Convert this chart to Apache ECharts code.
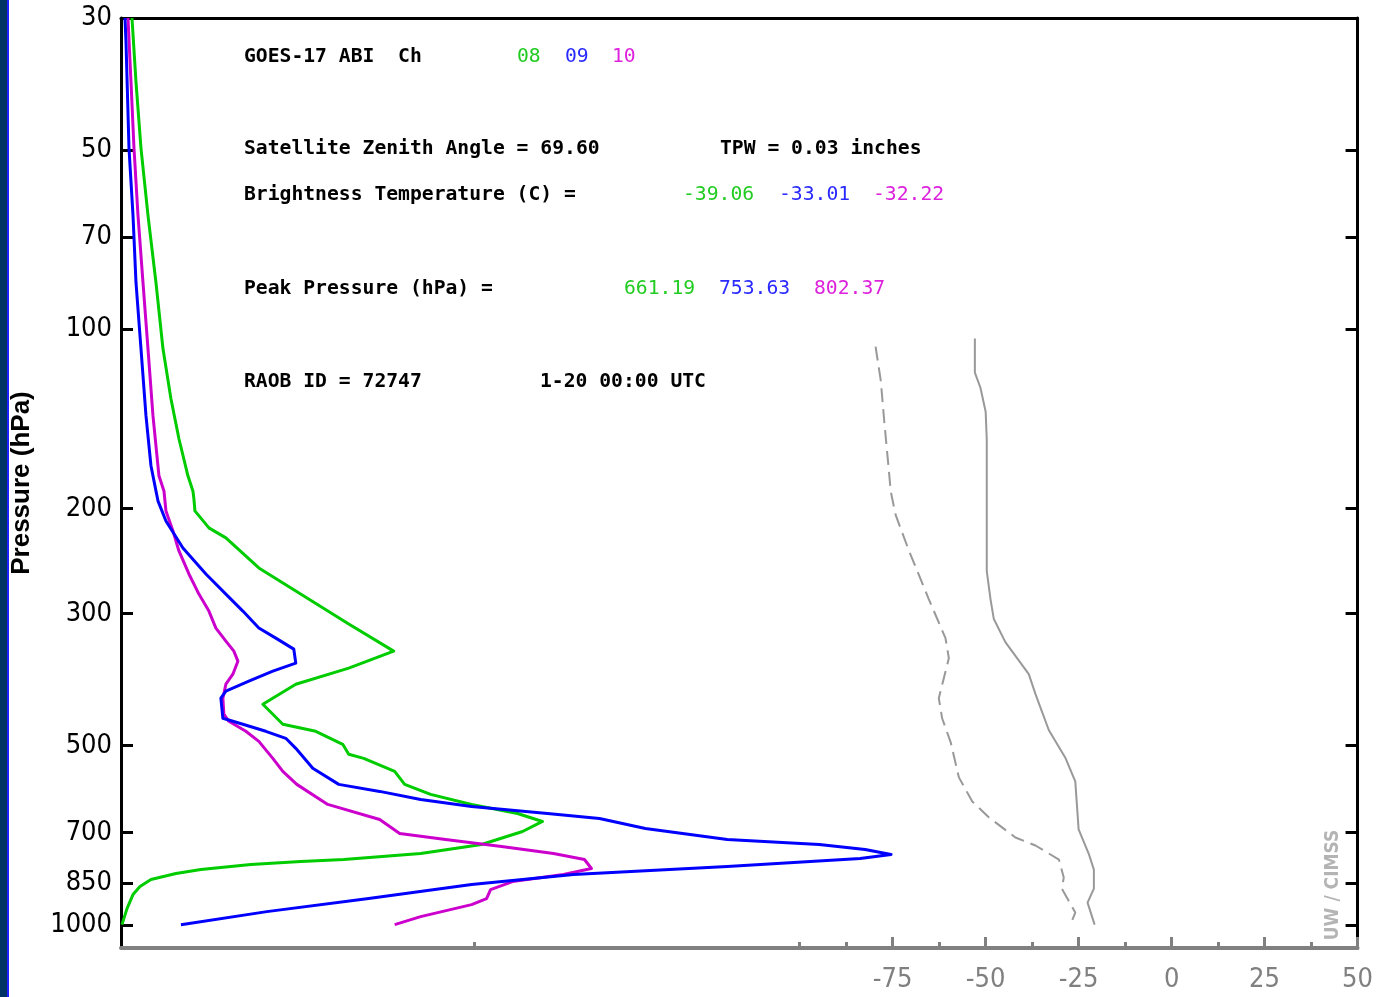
<!DOCTYPE html>
<html><head><meta charset="utf-8">
<script src="https://cdn.jsdelivr.net/npm/echarts@6/dist/echarts.min.js"></script>
<style>html,body{margin:0;padding:0;background:#fff}#c{width:1376px;height:997px}</style>
</head><body><div id="c"></div><script>
// ---- tick labels ----
const pressureTicks = [30, 50, 70, 100, 200, 300, 500, 700, 850, 1000];
const pressureTickMarks = [50, 70, 100, 200, 300, 500, 700, 850, 1000];
const tempTicks = [-75, -50, -25, 0, 25, 50];
const tempMinorTicks = [-187.5, -100, -87.5, -62.5, -37.5, -12.5, 12.5, 37.5];

// ---- weighting functions (normalized weight vs pressure hPa) ----
const ch08Pressure = [30, 38.4, 49.6, 64.3, 83.4, 107.7, 130.7, 152.6, 176.1, 186.7, 192.5, 201.7, 215.4, 223.9, 251.5, 275.0, 312.4, 346.9, 370.5, 394.2, 425.9, 460.2, 472.9, 497.3, 516.9, 525.0, 552.1, 580.6, 603.6, 627.4, 649.7, 670.1, 696.6, 732.5, 758.6, 776.4, 782.4, 791.6, 807.1, 819.6, 838.9, 861.9, 889.1, 938.7, 998.7];
const ch08Weight = [0.011, 0.015, 0.020, 0.027, 0.035, 0.042, 0.050, 0.058, 0.067, 0.072, 0.073, 0.074, 0.088, 0.105, 0.138, 0.175, 0.228, 0.273, 0.228, 0.175, 0.142, 0.162, 0.195, 0.222, 0.228, 0.243, 0.274, 0.284, 0.310, 0.351, 0.397, 0.422, 0.402, 0.361, 0.300, 0.223, 0.180, 0.130, 0.080, 0.055, 0.030, 0.019, 0.012, 0.006, 0.001];

const ch09Pressure = [30, 32.9, 49.6, 64.3, 83.4, 107.7, 139.6, 169.4, 186.7, 194.0, 209.7, 232.8, 257.4, 278.2, 297.1, 317.3, 329.9, 344.2, 363.4, 374.8, 389.6, 405.0, 416.1, 449.7, 460.2, 472.9, 485.9, 505.1, 545.7, 580.6, 596.6, 615.4, 632.3, 649.7, 662.4, 688.5, 718.5, 732.5, 746.9, 761.5, 773.3, 797.7, 822.8, 855.3, 903.0, 949.6, 998.7];
const ch09Weight = [0.004, 0.005, 0.008, 0.012, 0.015, 0.020, 0.025, 0.030, 0.035, 0.037, 0.045, 0.062, 0.085, 0.105, 0.122, 0.138, 0.155, 0.173, 0.175, 0.152, 0.128, 0.105, 0.100, 0.102, 0.122, 0.145, 0.165, 0.175, 0.192, 0.218, 0.259, 0.300, 0.351, 0.427, 0.479, 0.525, 0.607, 0.699, 0.745, 0.771, 0.740, 0.607, 0.453, 0.351, 0.248, 0.146, 0.060];

const ch10Pressure = [30, 38.4, 49.6, 64.3, 83.4, 107.7, 139.6, 176.1, 186.7, 201.7, 217.9, 235.5, 257.4, 278.2, 297.1, 317.3, 333.7, 346.9, 360.6, 379.2, 394.2, 416.1, 442.7, 454.9, 472.9, 491.6, 525.0, 552.1, 580.6, 627.4, 665.0, 702.0, 718.5, 738.2, 758.6, 776.4, 803.9, 822.8, 845.4, 872.0, 903.0, 924.2, 968.2, 998.7];
const ch10Weight = [0.007, 0.010, 0.013, 0.017, 0.022, 0.027, 0.032, 0.038, 0.043, 0.045, 0.052, 0.058, 0.068, 0.078, 0.088, 0.095, 0.105, 0.113, 0.117, 0.112, 0.105, 0.102, 0.103, 0.108, 0.125, 0.138, 0.152, 0.162, 0.176, 0.207, 0.259, 0.279, 0.325, 0.381, 0.433, 0.464, 0.471, 0.443, 0.392, 0.370, 0.366, 0.351, 0.300, 0.274];

// ---- RAOB temperature / dewpoint (deg C vs pressure hPa) ----
const tempPressure = [103.6, 118.2, 125.3, 137.5, 153.2, 254.5, 283.6, 306.4, 335.0, 379.2, 409.7, 471.0, 525.0, 573.9, 691.2, 758.6, 807.1, 868.7, 917.1, 998.7];
const tempValue = [-52.9, -52.9, -51.4, -50.0, -49.7, -49.7, -48.7, -47.8, -44.7, -38.4, -36.6, -33.0, -28.5, -25.9, -25.0, -22.3, -20.9, -20.9, -22.6, -20.7];
const dewPressure = [106.9, 121.9, 141.8, 160.5, 187.4, 204.9, 235.5, 283.6, 329.9, 356.4, 416.1, 449.7, 493.5, 565.1, 620.2, 659.8, 713.0, 735.4, 776.4, 832.4, 868.7, 953.2, 998.7];
const dewValue = [-79.6, -78.2, -77.3, -76.5, -75.5, -74.2, -70.6, -65.3, -60.8, -59.9, -62.6, -61.7, -59.4, -57.2, -53.6, -49.1, -42.0, -36.6, -30.3, -29.0, -29.5, -25.9, -27.2];

const zip = (xs, ys) => xs.map((v, i) => [v, ys[i]]);
const GREEN = '#00cc00', BLUE = '#0000ff', MAGENTA = '#cc00cc';
const GREEN_T = '#22cc22', BLUE_T = '#2a2aff', MAGENTA_T = '#dd22dd';
const labelFont = "'DejaVu Sans Condensed', 'Liberation Sans Narrow', 'DejaVu Sans', sans-serif";
const monoBold = "bold 19.7px 'DejaVu Sans Mono', monospace";
const monoReg = "19.7px 'DejaVu Sans Mono', monospace";

function txt(s, x, y, color, font) {
  return { type: 'text', x: x, y: y, silent: true, z: 100,
    style: { text: s, fill: color, font: font, align: 'left', verticalAlign: 'middle' } };
}

const chart = echarts.init(document.getElementById('c'), null, { renderer: 'canvas' });
const tAxisBase = { type: 'value', min: -282.5, max: 50, splitLine: { show: false } };
const pAxisBase = { type: 'log', logBase: 10, min: 30, max: 1093, inverse: true, splitLine: { show: false } };

const option = {
  animation: false,
  backgroundColor: '#ffffff',
  grid: { left: 121, right: 17, top: 18, bottom: 49 },
  xAxis: [
    { type: 'value', position: 'top', min: 0, max: 1.238,
      axisLine: { show: true, onZero: false, lineStyle: { color: '#000', width: 3 } },
      axisTick: { show: false }, axisLabel: { show: false }, splitLine: { show: false } },
    Object.assign({}, tAxisBase, { position: 'bottom',
      axisLine: { show: true, onZero: false, lineStyle: { color: '#808080', width: 4 } },
      axisTick: { show: true, inside: true, length: 11, lineStyle: { color: '#808080', width: 3 }, customValues: tempTicks },
      axisLabel: { show: true, customValues: tempTicks, color: '#808080', fontSize: 27, fontFamily: labelFont, margin: 18,
        formatter: v => String(Math.round(v)) } }),
    Object.assign({}, tAxisBase, { position: 'bottom',
      axisLine: { show: false },
      axisTick: { show: true, inside: true, length: 6, lineStyle: { color: '#808080', width: 3 }, customValues: tempMinorTicks },
      axisLabel: { show: false } })
  ],
  yAxis: [
    Object.assign({}, pAxisBase, { position: 'left',
      axisLine: { show: true, onZero: false, lineStyle: { color: '#000', width: 3 } },
      axisTick: { show: true, inside: true, length: 12, lineStyle: { color: '#000', width: 3 }, customValues: pressureTickMarks },
      axisLabel: { show: true, customValues: pressureTicks, color: '#000', fontSize: 27, fontFamily: labelFont, margin: 9,
        formatter: v => String(Math.round(v)) },
      name: 'Pressure (hPa)', nameLocation: 'middle', nameRotate: 90, nameGap: 86,
      nameTextStyle: { color: '#000', fontSize: 26, fontWeight: 'bold', fontFamily: "'Liberation Sans', Arial, sans-serif" } }),
    Object.assign({}, pAxisBase, { position: 'right',
      axisLine: { show: true, onZero: false, lineStyle: { color: '#000', width: 3 } },
      axisTick: { show: true, inside: true, length: 12, lineStyle: { color: '#000', width: 3 }, customValues: pressureTickMarks },
      axisLabel: { show: false } })
  ],
  series: [
    { name: 'Dewpoint', type: 'line', xAxisIndex: 1, yAxisIndex: 0, data: zip(dewValue, dewPressure),
      symbol: 'none', silent: true, lineStyle: { color: '#999999', width: 2, type: [14, 7] }, z: 2 },
    { name: 'Temperature', type: 'line', xAxisIndex: 1, yAxisIndex: 0, data: zip(tempValue, tempPressure),
      symbol: 'none', silent: true, lineStyle: { color: '#999999', width: 2 }, z: 2 },
    { name: '08', type: 'line', xAxisIndex: 0, yAxisIndex: 0, data: zip(ch08Weight, ch08Pressure),
      symbol: 'none', silent: true, lineStyle: { color: GREEN, width: 3, join: 'round' }, z: 3 },
    { name: '10', type: 'line', xAxisIndex: 0, yAxisIndex: 0, data: zip(ch10Weight, ch10Pressure),
      symbol: 'none', silent: true, lineStyle: { color: MAGENTA, width: 3, join: 'round' }, z: 3 },
    { name: '09', type: 'line', xAxisIndex: 0, yAxisIndex: 0, data: zip(ch09Weight, ch09Pressure),
      symbol: 'none', silent: true, lineStyle: { color: BLUE, width: 3, join: 'round' }, z: 3 }
  ],
  graphic: [
    { type: 'rect', silent: true, shape: { x: 0, y: 0, width: 7, height: 997 }, style: { fill: '#003366' }, z: 100 },
    { type: 'rect', silent: true, shape: { x: 7, y: 0, width: 2, height: 997 }, style: { fill: '#1f1fff' }, z: 100 },
    txt('GOES-17 ABI  Ch', 244, 57, '#000', monoBold),
    txt('08', 517, 57, GREEN_T, monoReg),
    txt('09', 565, 57, BLUE_T, monoReg),
    txt('10', 612, 57, MAGENTA_T, monoReg),
    txt('Satellite Zenith Angle = 69.60', 244, 149, '#000', monoBold),
    txt('TPW = 0.03 inches', 720, 149, '#000', monoBold),
    txt('Brightness Temperature (C) =', 244, 195, '#000', monoBold),
    txt('-39.06', 683, 195, GREEN_T, monoReg),
    txt('-33.01', 779, 195, BLUE_T, monoReg),
    txt('-32.22', 873, 195, MAGENTA_T, monoReg),
    txt('Peak Pressure (hPa) =', 244, 289, '#000', monoBold),
    txt('661.19', 624, 289, GREEN_T, monoReg),
    txt('753.63', 719, 289, BLUE_T, monoReg),
    txt('802.37', 814, 289, MAGENTA_T, monoReg),
    txt('RAOB ID = 72747', 244, 382, '#000', monoBold),
    txt('1-20 00:00 UTC', 540, 382, '#000', monoBold),
    { type: 'text', x: 1333, y: 885, rotation: Math.PI / 2, silent: true, z: 100,
      style: { text: 'UW / CIMSS', fill: '#b4b4b4', font: "bold 19px 'DejaVu Sans Condensed', 'DejaVu Sans', sans-serif", align: 'center', verticalAlign: 'middle' } }
  ]
};
chart.setOption(option);
</script></body></html>
